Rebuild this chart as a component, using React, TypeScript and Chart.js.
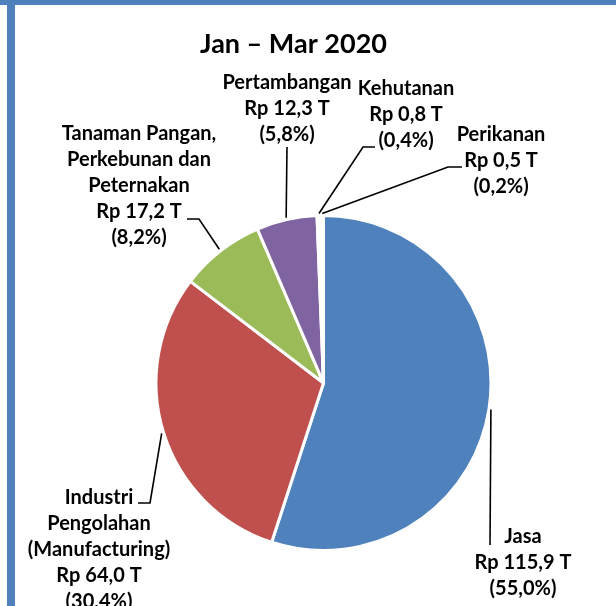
import React, { useEffect, useRef } from "react";
import { Chart, registerables } from "chart.js";

Chart.register(...registerables);

const title = "Jan – Mar 2020";
const categories = [
  ["Jasa"],
  ["Industri", "Pengolahan", "(Manufacturing)"],
  ["Tanaman Pangan,", "Perkebunan dan", "Peternakan"],
  ["Pertambangan"],
  ["Kehutanan"],
  ["Perikanan"],
];
const values = [115.9, 64.0, 17.2, 12.3, 0.8, 0.5];
const colors = ["#4F81BD", "#C0504D", "#9BBB59", "#8064A2", "#FFFFFF", "#FFFFFF"];

// label layout: text centre x, first line centre y, leader polyline start points
const labelLayout = [
  { cx: 523, cy: 537, lead: [[490, 545]] },
  { cx: 99, cy: 498, lead: [[138, 503], [150, 503]] },
  { cx: 139, cy: 134, lead: [[187, 219], [199, 219]] },
  { cx: 287, cy: 83, lead: [[287, 147]] },
  { cx: 406, cy: 89, lead: [[375, 147], [363, 147]] },
  { cx: 501, cy: 135, lead: [[462, 167], [448, 167]] },
];

const FONT = "Lato, 'Noto Sans', sans-serif";
const LINE_H = 25.8;

const fmt = (v: number) => v.toFixed(1).replace(".", ",");

const overlay = {
  id: "overlay",
  beforeDraw(chart: any) {
    const ctx = chart.ctx;
    ctx.save();
    ctx.fillStyle = "#FFFFFF";
    ctx.fillRect(0, 0, chart.width, chart.height);
    ctx.fillStyle = "#4F81BD";
    ctx.fillRect(0, 0, chart.width, 5);
    ctx.fillRect(7, 0, 8, chart.height);
    ctx.restore();
  },
  afterDraw(chart: any) {
    const ctx = chart.ctx;
    const meta = chart.getDatasetMeta(0);
    const total = values.reduce((a, b) => a + b, 0);
    ctx.save();
    // title
    ctx.fillStyle = "#000";
    ctx.textAlign = "center";
    ctx.textBaseline = "middle";
    ctx.font = `bold 27px ${FONT}`;
    ctx.fillText(title, 293.5, 44);
    meta.data.forEach((arc: any, i: number) => {
      const p = arc.getProps(["x", "y", "startAngle", "endAngle", "outerRadius"], true);
      const mid = (p.startAngle + p.endAngle) / 2;
      const r = p.outerRadius + 2;
      const ex = p.x + Math.cos(mid) * r;
      const ey = p.y + Math.sin(mid) * r;
      const L = labelLayout[i];
      ctx.strokeStyle = "#000";
      ctx.lineWidth = 1.6;
      ctx.beginPath();
      L.lead.forEach((pt, k) => (k === 0 ? ctx.moveTo(pt[0], pt[1]) : ctx.lineTo(pt[0], pt[1])));
      ctx.lineTo(ex, ey);
      ctx.stroke();
      const lines = [
        ...categories[i],
        `Rp ${fmt(values[i])} T`,
        `(${fmt((values[i] / total) * 100)}%)`,
      ];
      ctx.font = `bold 20px ${FONT}`;
      ctx.fillStyle = "#000";
      lines.forEach((t, k) => ctx.fillText(t, L.cx, L.cy + k * LINE_H));
    });
    ctx.restore();
  },
};

export default function App() {
  const ref = useRef<HTMLCanvasElement>(null);
  useEffect(() => {
    if (!ref.current) return;
    const chart = new Chart(ref.current, {
      type: "pie",
      data: {
        labels: categories.map((c) => c.join(" ")),
        datasets: [
          {
            data: values,
            backgroundColor: colors,
            borderColor: "#FFFFFF",
            borderWidth: 3,
          },
        ],
      },
      options: {
        responsive: false,
        animation: false,
        radius: 167.5,
        layout: { padding: { left: 140, right: 109, top: 205, bottom: 45 } },
        plugins: {
          legend: { display: false },
          tooltip: { enabled: false },
          title: { display: false },
        },
      },
      plugins: [overlay],
    });
    return () => chart.destroy();
  }, []);
  return (
    <div style={{ position: "fixed", left: 0, top: 0, width: 616, height: 606, background: "#fff" }}>
      <canvas ref={ref} width={616} height={606} style={{ display: "block" }} />
    </div>
  );
}
